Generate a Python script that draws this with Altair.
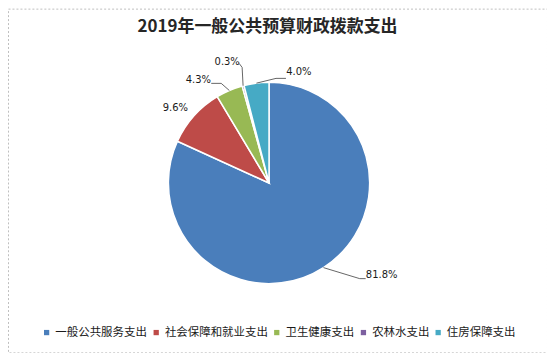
import math
import altair as alt
import pandas as pd

# ---- data ----
categories = ["一般公共服务支出", "社会保障和就业支出", "卫生健康支出", "农林水支出", "住房保障支出"]
values = [81.8, 9.6, 4.3, 0.3, 4.0]
labels = ["81.8%", "9.6%", "4.3%", "0.3%", "4.0%"]
colors = ["#4A7EBB", "#BE4B48", "#98B954", "#7D60A0", "#46AAC5"]
title_text = "2019年一般公共预算财政拨款支出"

# ---- style / layout constants (pixels, relative to pie centre, y up) ----
R = 101
CX, CY = 262, 175          # pie centre inside the view
W, H = 541, 345
label_text_pos = {          # text centre
    0: (113, -92), 1: (-94, 75), 2: (-71, 103), 3: (-42, 121), 4: (30, 111)}
leader_pts = {              # elbow + end, None = no leader line
    0: [(91, -96), (97, -96)],
    1: None,
    2: [(-48, 100), (-58, 100)],
    3: [(-27, 116), (-30, 120)],
    4: [(7, 105), (17, 105)]}

df = pd.DataFrame({"cat": categories, "val": values, "label": labels,
                   "idx": range(len(values))})

# mid angles derived from the data
total = sum(values)
cum = 0
mids = []
for v in values:
    mids.append((cum + v / 2) / total * 2 * math.pi)
    cum += v

lines = []
for i, a in enumerate(mids):
    pts = leader_pts[i]
    if not pts:
        continue
    lines.append({"cat": categories[i], "o": 0, "x": R * math.sin(a), "y": R * math.cos(a)})
    for k, (px, py) in enumerate(pts):
        lines.append({"cat": categories[i], "o": k + 1, "x": px, "y": py})
ldf = pd.DataFrame(lines)

tdf = pd.DataFrame({"label": labels,
                    "x": [label_text_pos[i][0] for i in range(len(labels))],
                    "y": [label_text_pos[i][1] for i in range(len(labels))]})

xs = alt.Scale(domain=[-CX, W - CX])
ys = alt.Scale(domain=[-(H - CY), CY])

pie = alt.Chart(df).mark_arc(outerRadius=R, stroke="white", strokeWidth=1.5).encode(
    theta=alt.Theta("val:Q", stack=True),
    order=alt.Order("idx:Q"),
    color=alt.Color("cat:N", sort=categories,
                    scale=alt.Scale(domain=categories, range=colors),
                    legend=alt.Legend(title=None, orient="none", direction="horizontal",
                                      legendX=33, legendY=319,
                                      symbolType="square", symbolSize=28,
                                      symbolStrokeWidth=0,
                                      labelFont="Noto Sans CJK SC", labelFontSize=11.5,
                                      labelColor="#1a1a1a", labelOffset=3,
                                      columnPadding=3)),
    x=alt.value(CX), y=alt.value(CY),
)

leader = alt.Chart(ldf).mark_line(color="#404040", strokeWidth=0.8).encode(
    x=alt.X("x:Q", scale=xs, axis=None),
    y=alt.Y("y:Q", scale=ys, axis=None),
    detail="cat:N",
    order="o:Q",
)

text = alt.Chart(tdf).mark_text(font="DejaVu Sans", fontSize=10, color="#1a1a1a",
                                 align="center", baseline="middle").encode(
    x=alt.X("x:Q", scale=xs, axis=None),
    y=alt.Y("y:Q", scale=ys, axis=None),
    text="label:N",
)

chart = alt.layer(pie, leader, text).properties(
    width=W, height=H, padding=0,
    autosize=alt.AutoSizeParams(type="none"),
    title=alt.TitleParams(title_text, font="Noto Sans CJK SC", fontSize=17,
                          fontWeight="bold", color="#262626", anchor="middle",
                          offset=-27, dx=-10),
).configure_view(stroke="#BFBFBF", strokeDash=[2, 2], strokeWidth=1)

chart.save("out.html", embed_options={"renderer": "svg", "actions": False})
